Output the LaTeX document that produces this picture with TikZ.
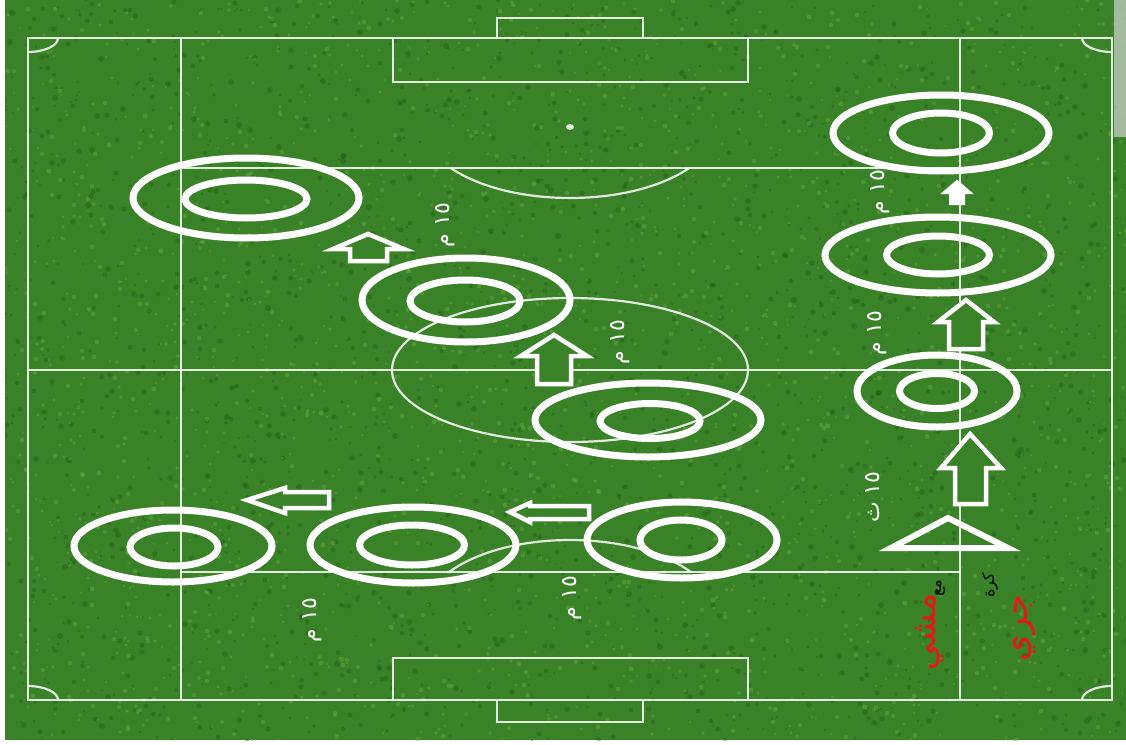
\documentclass[tikz,border=0pt]{standalone}
\usepackage{fontspec}
\newfontfamily\arabicfont[Script=Arabic]{DejaVu Sans}
\TeXXeTstate=1
\usetikzlibrary{shapes.geometric}
\definecolor{grass}{RGB}{58,130,40}
\definecolor{grassdark}{RGB}{28,90,20}
\definecolor{grasslight}{RGB}{110,175,65}
\definecolor{redtxt}{RGB}{235,20,25}
\begin{document}
\begin{tikzpicture}[x=1pt,y=-1pt,
  fline/.style={draw=white, opacity=0.85, line width=2.2pt},
  ringo/.style={ellipse, draw=white, line width=7pt, inner sep=0pt, outer sep=0pt},
  hollowarrow/.style={draw=white, line width=4.5pt, line join=miter, fill=grass},
  solidarrow/.style={draw=white, line width=2pt, fill=white},
  lbl/.style={text=white, font=\arabicfont\fontsize{22}{22}\selectfont, rotate=90, inner sep=0pt},
  redlbl/.style={text=redtxt, font=\arabicfont\fontsize{34}{34}\selectfont, rotate=90, inner sep=0pt},
  blacklbl/.style={text=black, font=\arabicfont\fontsize{16}{16}\selectfont, rotate=90, inner sep=0pt}]
\useasboundingbox (0,0) rectangle (1126,744);
\fill[white] (0,0) rectangle (1126,744);
\fill[grass] (5,0) rectangle (1126,740);
% grass texture
\begin{scope}
\clip (5,0) rectangle (1126,740);
\pgfmathsetseed{7}
\foreach \i in {1,...,2200}{
  \pgfmathsetmacro\xx{random(5,1126)}
  \pgfmathsetmacro\yy{random(0,740)}
  \pgfmathsetmacro\rr{1+2*rnd}
  \fill[grassdark, opacity=0.4] (\xx,\yy) circle (\rr pt);
}
\foreach \i in {1,...,2200}{
  \pgfmathsetmacro\xx{random(5,1126)}
  \pgfmathsetmacro\yy{random(0,740)}
  \pgfmathsetmacro\rr{1+1.5*rnd}
  \fill[grasslight, opacity=0.4] (\xx,\yy) circle (\rr pt);
}
\end{scope}
% right grey strip
\fill[gray!35, opacity=0.7] (1114,0) rectangle (1126,137);
% pitch lines
\draw[fline] (28,38) rectangle (1112,700);
\draw[fline] (181,38) -- (181,700);
\draw[fline] (960,38) -- (960,700);
\draw[fline] (181,168) -- (960,168);
\draw[fline] (181,572) -- (960,572);
\draw[fline] (28,370) -- (1112,370);
\draw[fline] (570,370) ellipse (178 and 72);
% top area
\draw[fline] (393,38) -- (393,82) -- (748,82) -- (748,38);
\draw[fline] (497,38) -- (497,18) -- (643,18) -- (643,38);
\fill[white, opacity=0.85] (570,127) ellipse (4 and 3);
\begin{scope}
\clip (100,168) rectangle (1000,260);
\draw[fline] (570,127) ellipse (146 and 71);
\end{scope}
% bottom area
\draw[fline] (393,700) -- (393,658) -- (748,658) -- (748,700);
\draw[fline] (497,700) -- (497,722) -- (643,722) -- (643,700);
\begin{scope}
\clip (100,480) rectangle (1000,572);
\draw[fline] (570,613) ellipse (146 and 73);
\end{scope}
% corner arcs
\draw[fline] (58,38) arc[start angle=0, end angle=90, x radius=30, y radius=14];
\draw[fline] (1082,38) arc[start angle=180, end angle=90, x radius=30, y radius=14];
\draw[fline] (58,700) arc[start angle=0, end angle=-90, x radius=30, y radius=14];
\draw[fline] (1082,700) arc[start angle=180, end angle=270, x radius=30, y radius=14];
% rings (outer and inner)
\node[ringo, minimum width=226pt, minimum height=80pt] (r1) at (246,198) {};
\node[ringo, minimum width=122pt, minimum height=38pt] (r1i) at (246,199) {};
\node[ringo, minimum width=208pt, minimum height=84pt] (r2) at (466,300) {};
\node[ringo, minimum width=110pt, minimum height=42pt] (r2i) at (465,301) {};
\node[ringo, minimum width=226pt, minimum height=74pt] (r3) at (648,420) {};
\node[ringo, minimum width=100pt, minimum height=35pt] (r3i) at (650,421) {};
\node[ringo, minimum width=216pt, minimum height=76pt] (r4) at (941,133) {};
\node[ringo, minimum width=97pt, minimum height=40pt] (r4i) at (941,133) {};
\node[ringo, minimum width=226pt, minimum height=76pt] (r5) at (938,255) {};
\node[ringo, minimum width=103pt, minimum height=38pt] (r5i) at (938,255) {};
\node[ringo, minimum width=160pt, minimum height=72pt] (r6) at (937,391) {};
\node[ringo, minimum width=75pt, minimum height=35pt] (r6i) at (937,391) {};
\node[ringo, minimum width=198pt, minimum height=72pt] (r7) at (173,546) {};
\node[ringo, minimum width=88pt, minimum height=38pt] (r7i) at (174,547) {};
\node[ringo, minimum width=206pt, minimum height=76pt] (r8) at (413,545) {};
\node[ringo, minimum width=105pt, minimum height=40pt] (r8i) at (412,545) {};
\node[ringo, minimum width=190pt, minimum height=76pt] (r9) at (682,540) {};
\node[ringo, minimum width=82pt, minimum height=40pt] (r9i) at (681,540) {};
% arrows
\draw[hollowarrow] (368,234) -- (404,249) -- (387,249) -- (387,261) -- (350,261) -- (350,249) -- (333,249) -- cycle;
\draw[hollowarrow] (554,335) -- (587,356) -- (571,356) -- (571,384) -- (537,384) -- (537,356) -- (521,356) -- cycle;
\draw[solidarrow] (957,181) -- (971,193) -- (964,193) -- (964,204) -- (950,204) -- (950,193) -- (943,193) -- cycle;
\draw[hollowarrow] (966,300) -- (994,322) -- (983,322) -- (983,349) -- (949,349) -- (949,322) -- (938,322) -- cycle;
\draw[hollowarrow] (970,434) -- (1001,468) -- (986,468) -- (986,504) -- (955,504) -- (955,468) -- (941,468) -- cycle;
\draw[hollowarrow] (247,500) -- (285,488) -- (285,492) -- (329,492) -- (329,508) -- (285,508) -- (285,513) -- cycle;
\draw[hollowarrow] (510,512) -- (530,503) -- (530,506) -- (589,506) -- (589,519) -- (530,519) -- (530,522) -- cycle;
% start triangle
\draw[white, line width=6pt, line join=miter] (891,548) -- (1008,548) -- (948,518) -- cycle;
% distance labels
\node[lbl] (l1) at (445,225) {\beginR ١٥ م\endR};
\node[lbl] (l2) at (620,342) {\beginR ١٥ م\endR};
\node[lbl] (l3) at (880,192) {\beginR ١٥ م\endR};
\node[lbl] (l4) at (877,333) {\beginR ١٥ م\endR};
\node[lbl] (l5) at (873,497) {\beginR ١٥ ث\endR};
\node[lbl] (l6) at (312,620) {\beginR ١٥ م\endR};
\node[lbl] (l7) at (572,598) {\beginR ١٥ م\endR};
% legend text
\node[blacklbl] (b1) at (940,588) {مع};
\node[redlbl] (t1) at (930,632) {مشي};
\node[blacklbl] (b2) at (990,585) {كرة};
\node[redlbl] (t2) at (1025,628) {جري};
\end{tikzpicture}
\end{document}
